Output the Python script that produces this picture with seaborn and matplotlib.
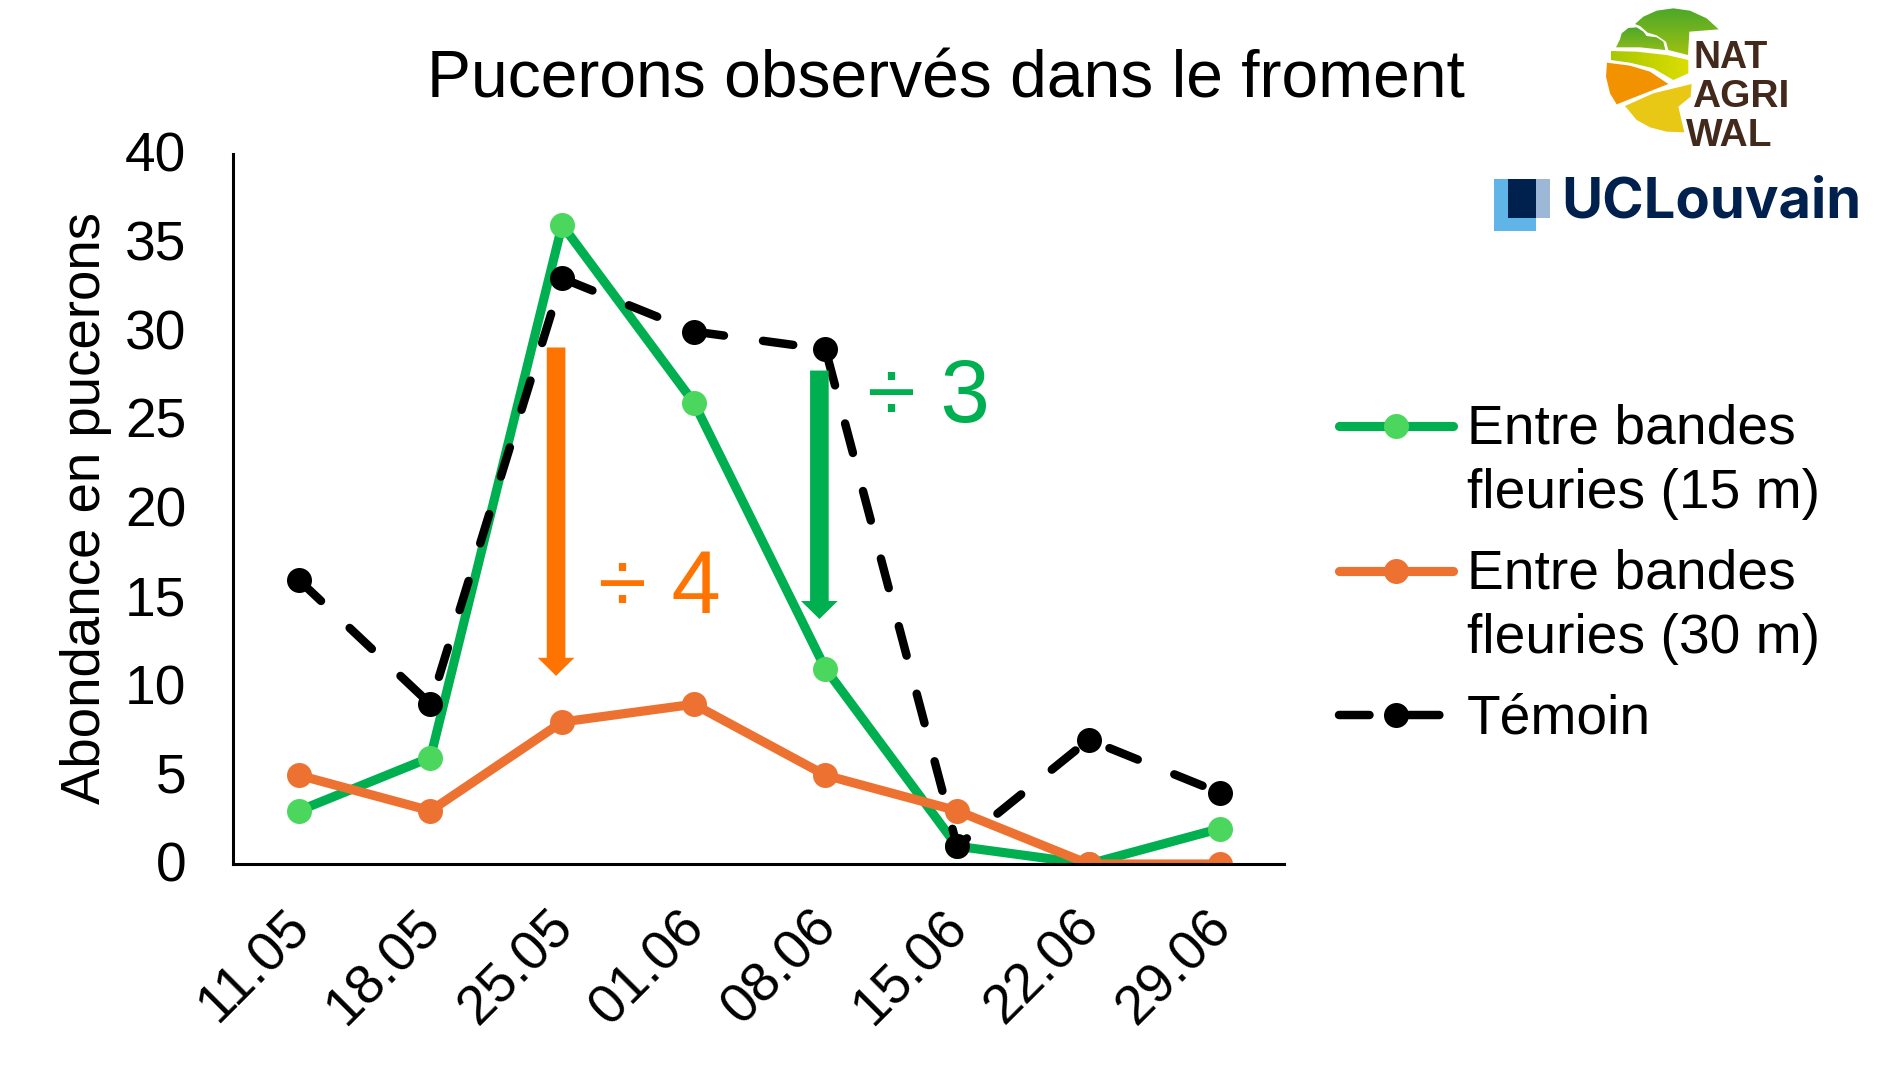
import numpy as np
import pandas as pd
import matplotlib
matplotlib.use("Agg")
import matplotlib.pyplot as plt
import seaborn as sns
from matplotlib.legend_handler import HandlerLine2D
from matplotlib.patches import Polygon, Rectangle
from matplotlib.transforms import ScaledTranslation

# Data
dates = ['11.05', '18.05', '25.05', '01.06', '08.06', '15.06', '22.06', '29.06']
bandes_15m = [3, 6, 36, 26, 11, 1, 0, 2]
bandes_30m = [5, 3, 8, 9, 5, 3, 0, 0]
temoin = [16, 9, 33, 30, 29, 1, 7, 4]
y_ticks = [0, 5, 10, 15, 20, 25, 30, 35, 40]

label_15 = 'Entre bandes\nfleuries (15 m)'
label_30 = 'Entre bandes\nfleuries (30 m)'
label_temoin = 'Témoin'

W, H = 1892, 1077

sns.set_theme(style="white")
plt.rcParams['font.family'] = ['Liberation Sans', 'DejaVu Sans']
plt.rcParams['text.color'] = 'black'
plt.rcParams['axes.labelcolor'] = 'black'


class FirstRowLine(HandlerLine2D):
    # puts the legend line on the first row of a two row label
    def create_artists(self, legend, orig_handle, xdescent, ydescent, width, height, fontsize, trans):
        return super().create_artists(legend, orig_handle, xdescent, ydescent - 2 * 0.67 * fontsize,
                                       width, height, fontsize, trans)


fig = plt.figure(figsize=(W / 100, H / 100), dpi=100)
ax = fig.add_axes([233 / W, 1 - 864 / H, (1284 - 233) / W, (864 - 154) / H])

df = pd.DataFrame({'date': dates, 'b15': bandes_15m, 'b30': bandes_30m, 'tem': temoin})

# Three series
sns.lineplot(data=df, x='date', y='b15', ax=ax, sort=False, estimator=None, color='#00B050',
             linewidth=6.6, marker='o', markersize=18, markerfacecolor='#4BD75E',
             markeredgewidth=0, solid_joinstyle='round', label=label_15)
sns.lineplot(data=df, x='date', y='b30', ax=ax, sort=False, estimator=None, color='#ED7231',
             linewidth=6.6, marker='o', markersize=18, markerfacecolor='#ED7231',
             markeredgewidth=0, solid_joinstyle='round', label=label_30)
sns.lineplot(data=df, x='date', y='tem', ax=ax, sort=False, estimator=None, color='black',
             linewidth=6.1, marker='o', markersize=18, markerfacecolor='black',
             markeredgewidth=0, linestyle=(0, (3.6, 4.65)), dash_capstyle='round', label=label_temoin)

ax.set_xlim(-0.5, 7.483)
ax.set_ylim(0, 40)
ax.set_yticks(y_ticks)
ax.set_xlabel('')
ax.set_ylabel('Abondance en pucerons', fontsize=39.3)
ax.yaxis.set_label_coords(-0.115, 0.502)
ax.tick_params(axis='both', length=0, labelsize=39.7, labelcolor='black')
ax.tick_params(axis='y', pad=33.5)
ax.tick_params(axis='x', pad=39.5)
plt.setp(ax.get_xticklabels(), rotation=45, ha='right', va='center', rotation_mode='anchor')
# small nudges so the tick labels sit where they do in the picture
for lab in ax.get_xticklabels():
    lab.set_transform(lab.get_transform() + ScaledTranslation(3 / 100, 0, fig.dpi_scale_trans))
for lab in ax.get_yticklabels():
    lab.set_transform(lab.get_transform() + ScaledTranslation(0, 2.4 / 100, fig.dpi_scale_trans))
sns.despine(ax=ax)
for side in ['left', 'bottom']:
    ax.spines[side].set_linewidth(2.2)
    ax.spines[side].set_color('black')

# Reduction arrows and their labels
ax.annotate('', xy=(1.954, 10.6), xytext=(1.954, 29.1),
            arrowprops=dict(width=13.4, headwidth=26.4, headlength=13, shrink=0, color='#FF7400', lw=0))
ax.annotate('', xy=(3.954, 13.8), xytext=(3.954, 27.8),
            arrowprops=dict(width=13.4, headwidth=26.4, headlength=13, shrink=0, color='#00B050', lw=0))
ax.text(2.275, 14.15, '÷ 4', fontsize=64, color='#FF7400', ha='left', va='baseline')
ax.text(4.312, 24.9, '÷ 3', fontsize=64, color='#00B050', ha='left', va='baseline')

fig.text(946 / W, 1 - 97 / H, 'Pucerons observés dans le froment', fontsize=47.5, ha='center', va='baseline')

# Legend
handles, labels = ax.get_legend_handles_labels()
first_row = FirstRowLine(numpoints=1)
leg = ax.legend(handles, labels, handler_map={handles[0]: first_row, handles[1]: first_row},
                fontsize=39.7, frameon=False, loc='upper left',
                bbox_to_anchor=(1339 / W, 1 - 404 / H), bbox_transform=fig.transFigure,
                borderpad=0, borderaxespad=0, handlelength=2.06, handletextpad=0.26, labelspacing=0.525)
for t in leg.get_texts():
    t.set_linespacing(1.3)

# Logos, drawn in the coordinates of a 3x crop of the top right corner
lg = fig.add_axes([1480 / W, 1 - 240 / H, 412 / W, 240 / H])
lg.set_xlim(0, 1236)
lg.set_ylim(720, 0)
lg.axis('off')


def gradient(points, c1, c2, vertical=True):
    poly = Polygon(points, closed=True, fc='none', ec='none')
    lg.add_patch(poly)
    xs = [p[0] for p in points]
    ys = [p[1] for p in points]
    ramp = np.linspace(0, 1, 64)
    ramp = ramp[:, None] if vertical else ramp[None, :]
    cmap = matplotlib.colors.LinearSegmentedColormap.from_list('g', [c1, c2])
    im = lg.imshow(ramp, cmap=cmap, aspect='auto', extent=(min(xs), max(xs), max(ys), min(ys)), zorder=2)
    im.set_clip_path(poly)


gradient([(465, 72), (490, 50), (530, 32), (580, 25), (630, 32), (680, 55), (716, 88), (628, 95), (624, 165),
          (565, 150), (558, 125), (530, 106), (503, 98), (480, 78)], '#4CA82A', '#9DC10F')
gradient([(408, 142), (420, 118), (425, 100), (445, 84), (470, 82), (490, 95), (500, 108),
          (530, 112), (550, 125), (556, 150), (480, 142)], '#4CA82A', '#8DBB1A')
gradient([(393, 153), (470, 155), (560, 165), (625, 180), (625, 220), (580, 240),
          (520, 205), (450, 188), (392, 180)], '#A8C800', '#DDDD00', vertical=False)
lg.add_patch(Polygon([(381, 188), (450, 197), (510, 215), (565, 252), (410, 313), (390, 280), (378, 230)],
                     closed=True, fc='#F39200', ec='none', zorder=2))
lg.add_patch(Polygon([(435, 318), (520, 280), (635, 252), (632, 290), (595, 320), (613, 397),
                      (560, 395), (510, 382), (470, 360)], closed=True, fc='#E8C814', ec='none', zorder=2))

brown = '#42291C'
lg.text(751, 205, 'NAT', fontsize=27, fontweight='bold', color=brown, ha='center', va='baseline', zorder=3)
lg.text(783, 322, 'AGRI', fontsize=28, fontweight='bold', color=brown, ha='center', va='baseline', zorder=3)
lg.text(747, 438, 'WAL', fontsize=28, fontweight='bold', color=brown, ha='center', va='baseline', zorder=3)

lg.add_patch(Rectangle((42, 537), 126, 155, fc='#60B5E8', ec='none'))
lg.add_patch(Rectangle((168, 537), 42, 118, fc='#9DB8D6', ec='none'))
lg.add_patch(Rectangle((83, 537), 85, 118, fc='#00214D', ec='none'))
lg.text(243, 653, 'UCLouvain', fontsize=40.4, fontweight='bold', color='#00214D', family='Inter',
        ha='left', va='baseline')

fig.savefig('out.png', dpi=100)
